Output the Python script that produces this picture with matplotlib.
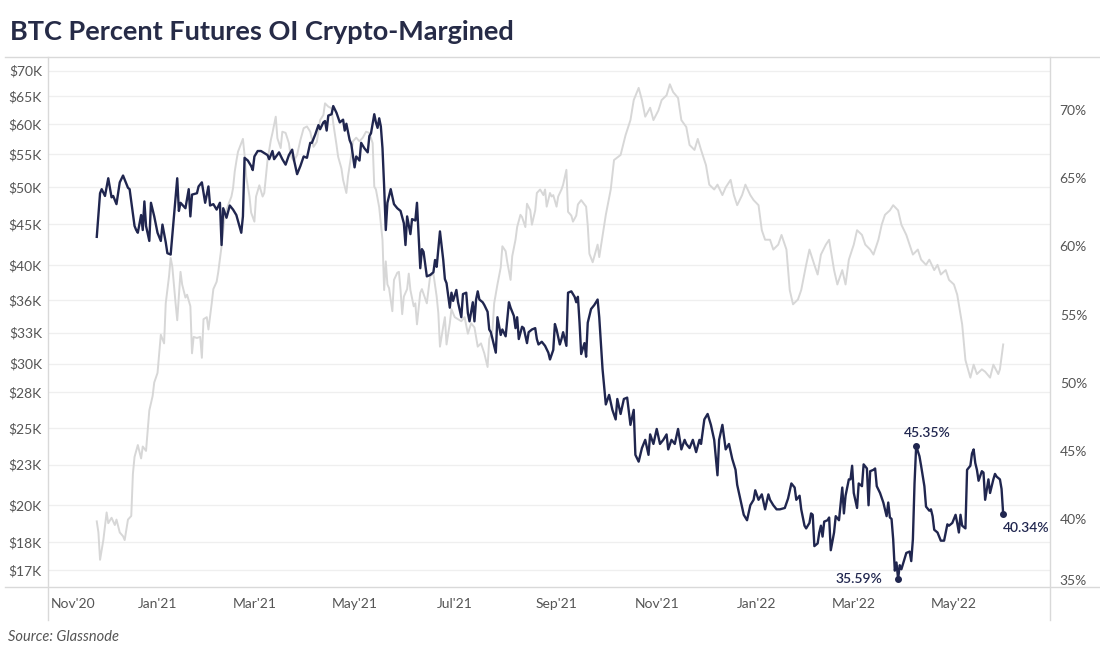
import numpy as np
import pandas as pd
import matplotlib
matplotlib.use('Agg')
import matplotlib.pyplot as plt
from matplotlib.lines import Line2D
from matplotlib.ticker import NullLocator
from matplotlib.transforms import ScaledTranslation

plt.rcParams['font.family'] = ['Lato', 'DejaVu Sans']

# 데이터 - 날짜는 2020-11-01 기준 경과일
start = pd.Timestamp('2020-11-01')

# BTC 선물 OI 중 코인마진 비율 (%), 오른쪽 축
oi_days = [
    24, 26, 27, 29, 31, 33, 34, 36, 38, 40,
    41, 43, 44, 47, 48, 49, 51, 52, 53, 54,
    56, 57, 59, 61, 63, 64, 66, 67, 69, 71,
    73, 74, 75, 78, 80, 81, 82, 85, 86, 88,
    90, 92, 93, 95, 97, 99, 100, 101, 103, 105,
    107, 109, 112, 113, 114, 116, 118, 119, 120, 122,
    124, 128, 129, 131, 132, 135, 137, 139, 141, 143,
    144, 146, 148, 150, 152, 154, 155, 157, 159, 160,
    162, 163, 164, 165, 167, 168, 170, 172, 174, 175,
    176, 178, 179, 181, 182, 184, 185, 187, 189, 190,
    191, 193, 194, 195, 196, 197, 198, 199, 200, 201,
    203, 205, 207, 209, 211, 212, 213, 215, 216, 218,
    219, 221, 222, 223, 225, 227, 229, 230, 231, 233,
    235, 236, 237, 239, 240, 241, 243, 244, 246, 247,
    249, 250, 251, 253, 254, 255, 256, 257, 259, 260,
    262, 263, 264, 265, 267, 268, 270, 271, 273, 275,
    276, 278, 279, 280, 281, 283, 284, 286, 287, 289,
    291, 292, 293, 295, 297, 299, 300, 302, 303, 304,
    306, 307, 308, 310, 311, 313, 315, 316, 317, 318,
    319, 321, 322, 323, 325, 327, 329, 330, 332, 334,
    336, 338, 340, 341, 343, 345, 347, 349, 351, 352,
    354, 356, 358, 360, 361, 363, 365, 367, 369, 371,
    372, 374, 376, 378, 380, 382, 383, 385, 387, 389,
    391, 392, 394, 396, 398, 400, 402, 403, 405, 407,
    409, 411, 413, 414, 416, 418, 420, 422, 424, 425,
    427, 429, 431, 433, 434, 436, 438, 440, 443, 445,
    447, 449, 450, 452, 453, 455, 456, 458, 459, 460,
    461, 463, 464, 465, 466, 467, 469, 470, 471, 473,
    474, 476, 478, 479, 480, 482, 483, 484, 485, 487,
    488, 490, 491, 493, 494, 495, 497, 498, 499, 501,
    503, 505, 506, 507, 508, 509, 510, 511, 512, 513,
    514, 516, 517, 519, 520, 521, 522, 523, 525, 526,
    528, 529, 531, 532, 533, 534, 536, 538, 540, 542,
    543, 545, 547, 548, 549, 550, 551, 553, 554, 556,
    557, 558, 559, 560, 561, 563, 564, 565, 567, 568,
    570, 571, 572, 574, 575, 576,
]
oi_pct = [
    60.7, 63.9, 64.2, 63.7, 65.0, 63.6, 63.7, 63.1, 64.7, 65.2,
    64.9, 64.3, 64.2, 61.5, 61.2, 61.0, 62.3, 61.2, 63.3, 61.5,
    60.4, 63.2, 62.2, 61.0, 60.4, 61.6, 60.3, 59.5, 59.4, 62.2,
    65.0, 62.6, 63.2, 62.8, 64.2, 62.2, 63.8, 63.9, 64.4, 64.7,
    63.2, 64.4, 63.0, 63.1, 62.7, 63.2, 60.1, 62.8, 62.1, 63.0,
    62.7, 62.3, 61.0, 62.2, 66.5, 66.3, 65.9, 65.6, 66.6, 67.0,
    67.0, 66.7, 66.4, 67.0, 66.4, 66.9, 66.4, 66.0, 66.7, 67.1,
    66.4, 65.3, 65.9, 66.6, 66.5, 67.6, 67.6, 68.2, 68.9, 68.6,
    69.1, 69.2, 68.5, 69.6, 69.7, 70.3, 69.8, 69.1, 69.3, 68.5,
    69.0, 67.8, 67.5, 65.8, 66.6, 66.3, 67.6, 67.2, 66.9, 68.1,
    68.3, 69.7, 69.1, 68.7, 69.4, 68.8, 67.2, 64.4, 61.2, 63.2,
    64.2, 63.1, 62.8, 62.6, 61.7, 60.1, 62.2, 60.9, 62.0, 61.9,
    63.2, 58.4, 59.8, 59.6, 57.8, 57.9, 58.1, 59.0, 58.5, 61.1,
    59.0, 57.6, 57.3, 55.5, 56.6, 56.0, 56.8, 55.9, 54.8, 56.5,
    56.6, 55.1, 54.5, 55.9, 54.5, 56.1, 56.7, 56.1, 55.9, 55.7,
    55.2, 53.9, 53.7, 53.2, 52.2, 54.8, 53.5, 53.9, 53.4, 55.9,
    55.5, 54.9, 54.0, 54.8, 53.2, 54.1, 54.0, 52.9, 53.7, 53.9,
    54.0, 53.2, 52.8, 53.0, 52.7, 52.2, 51.7, 52.4, 54.3, 53.9,
    52.8, 53.2, 53.7, 52.7, 56.6, 56.7, 56.3, 55.9, 56.3, 54.4,
    52.1, 52.9, 51.9, 54.4, 55.4, 55.7, 56.1, 54.8, 51.0, 48.4,
    49.1, 48.0, 47.3, 48.8, 47.7, 48.8, 48.9, 46.9, 48.0, 44.7,
    44.2, 45.2, 45.8, 44.7, 46.2, 45.5, 46.6, 45.5, 45.8, 46.2,
    45.1, 45.8, 45.5, 46.6, 45.1, 45.8, 45.5, 45.2, 45.8, 44.9,
    45.8, 45.5, 47.3, 47.7, 46.9, 45.8, 43.2, 45.8, 46.9, 45.1,
    45.5, 44.4, 43.6, 42.5, 41.4, 40.3, 39.9, 41.0, 41.4, 42.1,
    41.4, 41.8, 40.7, 41.8, 41.4, 41.0, 40.7, 40.7, 40.8, 41.5,
    42.6, 42.3, 41.4, 41.7, 40.7, 39.5, 39.3, 39.7, 40.4, 40.3,
    38.0, 38.2, 39.0, 39.5, 38.7, 39.8, 39.9, 40.1, 37.7, 39.0,
    40.2, 39.9, 42.3, 40.4, 41.7, 42.9, 42.9, 43.9, 41.9, 40.8,
    42.6, 42.4, 44.0, 43.7, 41.0, 43.5, 43.6, 43.7, 42.4, 41.9,
    41.2, 40.2, 41.2, 40.1, 40.0, 38.5, 36.2, 36.8, 35.59, 36.6,
    36.3, 37.1, 37.5, 37.6, 36.9, 38.5, 42.6, 45.35, 44.6, 43.9,
    42.4, 40.9, 40.6, 40.7, 40.2, 39.2, 39.0, 38.4, 38.4, 39.6,
    39.5, 39.7, 40.3, 39.7, 39.0, 40.3, 39.5, 39.3, 43.6, 43.9,
    44.8, 45.1, 44.1, 43.6, 42.8, 43.5, 43.4, 41.4, 42.9, 41.9,
    42.9, 43.3, 43.1, 42.9, 42.2, 40.34,
]

# BTC 가격 (천 달러), 왼쪽 로그 축
btc_days = [
    24, 25, 26, 28, 30, 31, 33, 35, 36, 38,
    40, 41, 43, 45, 46, 47, 49, 51, 52, 54,
    55, 56, 58, 59, 61, 62, 63, 65, 66, 68,
    69, 70, 72, 73, 75, 76, 78, 79, 81, 82,
    83, 85, 87, 88, 89, 91, 92, 94, 95, 97,
    98, 100, 101, 102, 104, 106, 107, 108, 109, 110,
    112, 113, 114, 115, 117, 118, 120, 121, 123, 125,
    126, 128, 130, 131, 133, 134, 136, 137, 139, 141,
    142, 144, 146, 148, 150, 152, 154, 156, 158, 160,
    162, 163, 165, 167, 168, 170, 171, 173, 174, 176,
    177, 179, 180, 182, 184, 186, 188, 190, 192, 193,
    194, 196, 197, 198, 199, 200, 201, 202, 204, 205,
    207, 208, 209, 210, 211, 213, 214, 215, 217, 218,
    219, 221, 222, 224, 225, 227, 229, 231, 232, 233,
    235, 236, 237, 239, 240, 242, 244, 246, 248, 250,
    252, 254, 256, 258, 260, 262, 263, 265, 266, 268,
    270, 271, 273, 274, 276, 277, 279, 280, 282, 283,
    285, 286, 288, 289, 291, 292, 294, 296, 297, 298,
    300, 301, 302, 304, 305, 307, 308, 310, 311, 313,
    314, 316, 317, 319, 320, 322, 323, 324, 326, 329,
    330, 334, 337, 339, 343, 346, 349, 351, 354, 356,
    358, 361, 363, 366, 368, 371, 373, 375, 378, 380,
    383, 385, 388, 390, 392, 395, 397, 400, 402, 405,
    407, 410, 412, 414, 417, 419, 422, 424, 427, 429,
    431, 434, 436, 439, 441, 444, 446, 448, 451, 453,
    456, 458, 461, 463, 465, 468, 470, 473, 475, 478,
    480, 482, 485, 487, 490, 492, 495, 497, 500, 502,
    504, 507, 509, 512, 514, 517, 519, 521, 524, 526,
    529, 531, 534, 536, 538, 541, 543, 546, 548, 551,
    553, 556, 558, 560, 563, 565, 568, 570, 573, 574,
    576,
]
btc_price_k = [
    19.1, 18.5, 17.1, 18.1, 19.6, 19.0, 19.3, 18.9, 19.2, 18.5,
    18.3, 18.1, 19.2, 19.4, 21.9, 23.0, 23.8, 22.9, 23.7, 23.4,
    24.8, 26.3, 27.4, 28.5, 29.3, 31.0, 32.7, 31.9, 35.8, 38.7,
    40.8, 39.8, 35.8, 34.1, 39.2, 37.8, 36.4, 36.7, 35.5, 31.0,
    32.5, 32.4, 32.5, 30.6, 34.2, 34.4, 33.2, 35.8, 37.3, 38.1,
    39.2, 42.2, 44.2, 46.2, 47.5, 48.7, 49.9, 52.3, 53.9, 55.4,
    56.8, 57.5, 54.9, 51.6, 48.7, 46.5, 45.3, 48.7, 50.3, 48.7,
    49.2, 54.1, 57.3, 58.5, 61.3, 57.6, 56.0, 58.7, 58.5, 56.8,
    54.9, 53.9, 54.9, 57.3, 59.3, 59.6, 58.7, 56.2, 57.0, 60.7,
    61.6, 63.7, 63.1, 62.8, 60.2, 56.5, 54.6, 52.8, 51.1, 49.2,
    51.6, 54.9, 57.1, 57.7, 57.1, 57.7, 58.7, 58.5, 56.8, 50.1,
    49.7, 47.2, 45.1, 43.0, 37.2, 40.4, 37.8, 37.4, 35.0, 38.3,
    39.1, 39.2, 37.2, 34.7, 36.5, 37.3, 39.0, 37.2, 35.5, 35.8,
    33.7, 36.9, 37.3, 36.3, 35.8, 38.7, 39.0, 36.5, 34.8, 31.6,
    33.5, 34.4, 31.8, 33.8, 35.2, 34.4, 34.2, 34.0, 34.4, 32.8,
    33.8, 33.4, 31.6, 31.9, 31.0, 29.8, 32.3, 33.2, 35.8, 37.8,
    39.7, 42.2, 41.6, 40.3, 38.3, 41.0, 43.0, 44.6, 46.2, 45.9,
    44.6, 47.7, 46.8, 44.9, 46.8, 49.2, 49.7, 48.9, 49.7, 47.3,
    49.2, 48.7, 48.9, 47.3, 48.7, 49.7, 50.4, 52.6, 46.6, 46.1,
    45.3, 46.1, 47.6, 48.2, 47.9, 47.3, 44.8, 41.3, 40.3, 42.4,
    40.9, 46.2, 49.7, 54.1, 54.9, 58.1, 60.7, 64.3, 66.6, 64.3,
    61.3, 62.9, 60.7, 62.4, 64.3, 65.2, 67.3, 65.8, 64.7, 60.7,
    59.5, 56.5, 55.7, 57.5, 55.7, 53.3, 50.4, 49.7, 50.4, 48.9,
    50.0, 51.1, 48.9, 47.5, 48.9, 50.4, 48.9, 48.2, 47.5, 44.2,
    43.0, 43.0, 41.8, 42.4, 43.6, 41.8, 37.2, 35.7, 36.2, 37.2,
    40.0, 41.8, 40.0, 38.9, 41.2, 42.4, 43.0, 39.4, 37.8, 39.4,
    37.8, 40.6, 42.4, 44.2, 43.6, 42.4, 41.8, 41.2, 43.0, 44.9,
    46.2, 46.8, 47.5, 46.8, 44.9, 43.6, 42.4, 41.2, 41.8, 40.6,
    40.0, 40.6, 39.4, 40.0, 38.9, 39.4, 38.3, 37.8, 36.7, 33.7,
    30.4, 28.9, 30.0, 29.2, 29.6, 29.4, 28.9, 30.0, 29.2, 29.6,
    31.8,
]

# 값이 표시된 지점 (경과일)
note_days = [523, 512, 576]

# 축 눈금
left_ticks = [70, 65, 60, 55, 50, 45, 40, 36.1, 32.9, 30.1, 27.7, 25.0, 22.5, 20.0, 18.0, 16.6]
left_labels = ['$70K', '$65K', '$60K', '$55K', '$50K', '$45K', '$40K', '$36K', '$33K',
               '$30K', '$28K', '$25K', '$23K', '$20K', '$18K', '$17K']
right_ticks = [35, 40, 45, 50, 55, 60, 65, 70]
month_ticks = ['2020-11-01', '2021-01-01', '2021-03-01', '2021-05-01', '2021-07-01',
               '2021-09-01', '2021-11-01', '2022-01-01', '2022-03-01', '2022-05-01']
month_labels = ["Nov'20", "Jan'21", "Mar'21", "May'21", "Jul'21",
                "Sep'21", "Nov'21", "Jan'22", "Mar'22", "May'22"]

oi_dates = start + pd.to_timedelta(oi_days, unit='D')
btc_dates = start + pd.to_timedelta(btc_days, unit='D')

navy = '#20264f'
light = '#d7d7d7'
frame = '#d9d9d9'
label_col = '#555555'

W, H = 1100, 660
fig = plt.figure(figsize=(W / 100, H / 100), dpi=100)
ax = fig.add_axes([48 / W, (H - 587) / H, 1002 / W, 530 / H])
ax2 = ax.twinx()

# BTC 가격 (회색)
ax.plot(btc_dates, btc_price_k, color=light, lw=1.4, zorder=2)
ax.set_yscale('log')
ax.set_ylim(15.81, 72.8)
ax.set_yticks(left_ticks, left_labels)
ax.yaxis.set_minor_locator(NullLocator())
ax.grid(axis='y', color='#efefef', lw=0.9, zorder=0)
ax.set_xlim(start - pd.Timedelta(days=5.7), start + pd.Timedelta(days=604.5))
ax.set_xticks(pd.to_datetime(month_ticks), month_labels)
ax.tick_params(axis='y', length=0, labelsize=10, labelcolor=label_col, pad=4.3)
ax.tick_params(axis='x', length=0, labelsize=10, labelcolor=label_col, pad=8)

# OI 코인마진 비율 (남색)
ax2.plot(oi_dates, oi_pct, color=navy, lw=1.7, zorder=3)
ax2.set_ylim(35.0, 73.9)
ax2.set_yticks(right_ticks, [f'{t}%' for t in right_ticks])
ax2.tick_params(axis='y', length=0, labelsize=10, labelcolor=label_col, pad=7)
ax2.get_yticklabels()[0].set_va('bottom')

for a in (ax, ax2):
    for s in a.spines.values():
        s.set_visible(False)

# 첫 x 라벨은 축 안쪽으로 밀기
lab0 = ax.get_xticklabels()[0]
lab0.set_ha('left')
lab0.set_transform(lab0.get_transform() + ScaledTranslation(-0.07, 0, fig.dpi_scale_trans))

# 주요 지점 표시 (최고, 최저, 마지막)
offsets = [((8, 9.5), 'center'), ((-11, 0), 'right'), ((0, -9.6), 'left')]
for d, (off, ha) in zip(note_days, offsets):
    i = oi_days.index(d)
    ax2.plot(oi_dates[i], oi_pct[i], 'o', color=navy, ms=4, zorder=4)
    ax2.annotate(f'{oi_pct[i]:.2f}%', (oi_dates[i], oi_pct[i]), xytext=off,
                 textcoords='offset points', ha=ha, va='center',
                 fontsize=10, color=navy, fontweight='semibold')

# 틀 선 (Tableau 스타일)
def fline(x0, y0, x1, y1):
    fig.add_artist(Line2D([x0 / W, x1 / W], [1 - y0 / H, 1 - y1 / H], color=frame, lw=1))

fline(5, 57, 1100, 57)
fline(5, 587, 1100, 587)
fline(48, 57, 48, 620)
fline(1050, 57, 1050, 620)

fig.text(10 / W, 1 - 32 / H, 'BTC Percent Futures OI Crypto-Margined', fontsize=19.5,
         fontweight='bold', color='#262b47', va='center', ha='left')
fig.text(8 / W, 1 - 637 / H, 'Source: Glassnode', fontsize=10.5, style='italic',
         color=label_col, va='center', ha='left')

fig.savefig('out.png', dpi=100)
